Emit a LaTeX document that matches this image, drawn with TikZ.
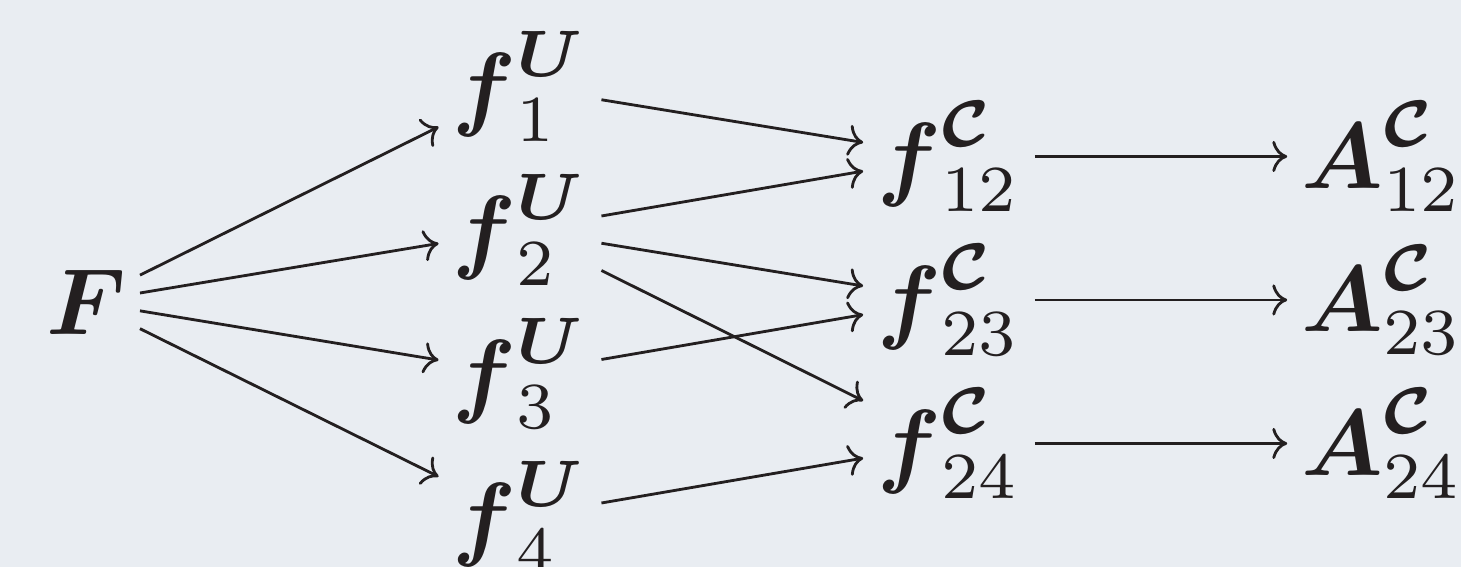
\documentclass[tikz,border=0pt]{standalone}
\usepackage{amsmath}
\usetikzlibrary{arrows.meta}
\definecolor{bg}{RGB}{233,237,242}
\definecolor{ink}{RGB}{35,31,32}
\newcommand{\bs}[1]{\boldsymbol{#1}}
\begin{document}
\begin{tikzpicture}[x=0.10638pt,y=-0.10638pt,
  cell/.style={inner xsep=1.3pt,inner ysep=1pt,text=ink},
  arr/.style={-{To[scale=0.7]},line width=0.3pt,draw=ink}]
\fill[bg] (0,0) rectangle (1461,567);
\useasboundingbox (0,0) rectangle (1461,567);
\node[cell] (F) at (86,302) {$\bs{F}$};
\node[cell] (f1) at (520,86.5) {$\bs{f}_1^{\bs{U}}$};
\node[cell] (f2) at (520,230) {$\bs{f}_2^{\bs{U}}$};
\node[cell] (f3) at (520,373.5) {$\bs{f}_3^{\bs{U}}$};
\node[cell] (f4) at (520,517) {$\bs{f}_4^{\bs{U}}$};
\node[cell] (f12) at (949,156.5) {$\bs{f}_{12}^{\bs{\mathcal{C}}}$};
\node[cell] (f23) at (949,300) {$\bs{f}_{23}^{\bs{\mathcal{C}}}$};
\node[cell] (f24) at (949,443.5) {$\bs{f}_{24}^{\bs{\mathcal{C}}}$};
\node[cell] (A12) at (1382,156.5) {$\bs{A}_{12}^{\bs{\mathcal{C}}}$};
\node[cell] (A23) at (1382,300) {$\bs{A}_{23}^{\bs{\mathcal{C}}}$};
\node[cell] (A24) at (1382,443.5) {$\bs{A}_{24}^{\bs{\mathcal{C}}}$};
\draw[arr] (F) -- (f1);
\draw[arr] (F) -- (f2);
\draw[arr] (F) -- (f3);
\draw[arr] (F) -- (f4);
\draw[arr] (f1) -- (f12);
\draw[arr] (f2) -- (f12);
\draw[arr] (f2) -- (f23);
\draw[arr] (f2) -- (f24);
\draw[arr] (f3) -- (f23);
\draw[arr] (f4) -- (f24);
\draw[arr] (f12) -- (A12);
\draw[arr] (f23) -- (A23);
\draw[arr] (f24) -- (A24);
\end{tikzpicture}
\end{document}
